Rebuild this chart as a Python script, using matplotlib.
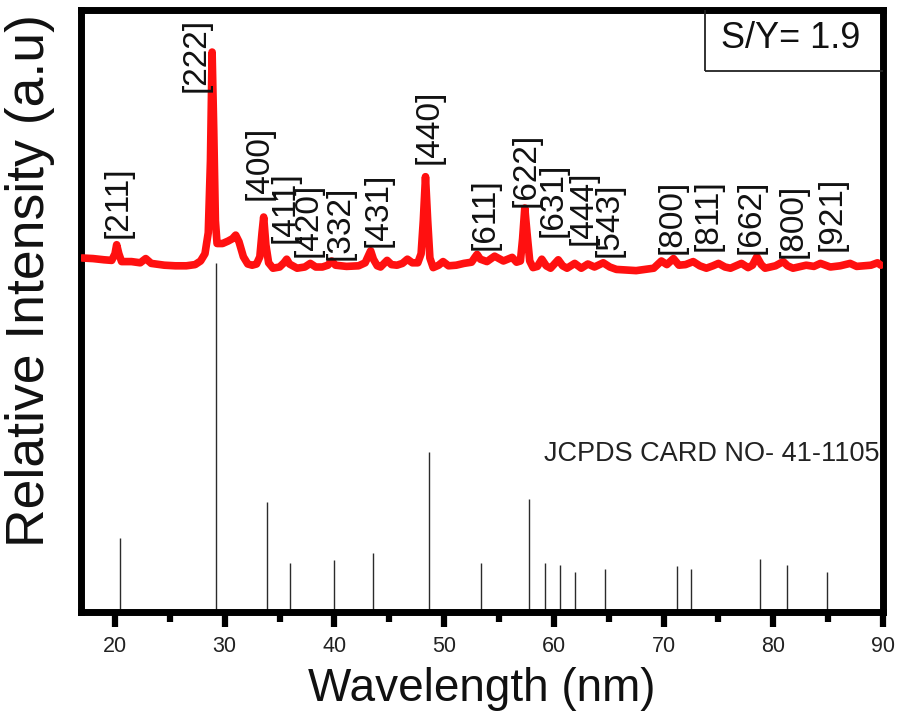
import matplotlib
matplotlib.use("Agg")
import matplotlib.pyplot as plt
from matplotlib.patches import Rectangle

plt.rcParams['font.family'] = ['Liberation Sans', 'DejaVu Sans']

# ---- data ----
# measured XRD pattern (red curve): 2-theta vs relative intensity
xrd_x = [17.0, 18.0, 19.0, 19.7, 20.0, 20.15, 20.35, 20.6, 21.5, 22.3, 22.8, 23.3, 24.5, 25.5,
         26.5, 27.3, 27.8, 28.2, 28.5, 28.7, 28.85, 29.0, 29.15, 29.3, 29.8, 30.3, 30.7, 31.0,
         31.3, 31.7, 32.1, 32.5, 32.9, 33.2, 33.4, 33.55, 33.75, 34.0, 34.4, 35.0, 35.4, 35.65,
         35.9, 36.6, 37.3, 37.8, 38.3, 38.9, 39.4, 39.75, 40.1, 41.1, 42.2, 42.8, 43.1, 43.3,
         43.55, 43.9, 44.2, 44.8, 45.2, 45.7, 46.2, 46.65, 47.1, 47.6, 47.9, 48.1, 48.3, 48.5,
         48.7, 49.0, 49.5, 49.9, 50.4, 51.1, 51.8, 52.5, 52.8, 53.0, 53.3, 53.9, 54.6, 55.4,
         56.2, 56.6, 56.95, 57.15, 57.35, 57.55, 57.8, 58.1, 58.5, 58.9, 59.3, 59.7, 60.4, 60.8,
         61.2, 61.9, 62.5, 63.1, 63.7, 64.5, 65.1, 65.7, 66.6, 67.5, 68.3, 69.1, 69.8, 70.3,
         70.9, 71.4, 72.0, 72.7, 73.3, 73.9, 74.5, 75.0, 75.6, 76.1, 76.6, 77.1, 77.7, 78.1,
         78.5, 78.9, 79.25, 80.2, 80.9, 81.3, 81.8, 83.0, 83.7, 84.3, 85.2, 86.1, 87.0, 87.6,
         88.2, 88.9, 89.5, 89.8]
xrd_y = [58.8, 58.7, 58.5, 58.4, 59.5, 61.0, 59.5, 58.2, 58.2, 58.0, 58.7, 57.9, 57.6, 57.5,
         57.5, 57.7, 58.3, 59.5, 63.0, 75.0, 93.0, 80.0, 65.0, 61.2, 61.2, 61.6, 62.0, 62.6,
         61.5, 59.0, 57.8, 57.6, 57.8, 59.0, 63.0, 65.6, 61.0, 58.0, 57.1, 57.3, 58.0, 58.6,
         57.8, 57.1, 57.3, 57.9, 57.3, 57.3, 57.6, 58.3, 57.6, 57.4, 57.5, 58.0, 59.2, 60.0,
         58.6, 57.5, 57.3, 58.4, 57.7, 57.6, 57.9, 58.6, 58.0, 58.0, 59.5, 65.0, 72.3, 65.0,
         58.8, 57.2, 57.6, 58.2, 57.5, 57.6, 57.9, 58.1, 58.9, 59.4, 58.6, 58.2, 59.1, 58.3,
         58.9, 58.1, 58.3, 62.0, 67.1, 63.0, 58.3, 57.2, 57.4, 58.6, 57.5, 57.1, 58.5, 57.5,
         57.1, 57.9, 57.1, 57.8, 57.3, 58.0, 57.3, 56.9, 56.8, 56.7, 56.9, 57.1, 58.3, 57.7,
         58.7, 57.6, 57.7, 58.2, 57.5, 57.1, 57.5, 57.9, 57.3, 57.1, 57.5, 57.9, 57.2, 57.6,
         59.0, 57.7, 57.1, 57.5, 58.2, 57.5, 57.1, 57.6, 57.4, 57.9, 57.3, 57.5, 57.9, 57.4,
         57.5, 57.6, 58.0, 57.6]

# JCPDS 41-1105 reference lines
ref_x = [20.48, 29.18, 33.83, 35.95, 39.96, 43.55, 48.62, 53.34, 57.77, 59.17, 60.57,
         61.96, 64.67, 71.2, 72.48, 78.8, 81.23, 84.88]
ref_h = [12.3, 58.0, 18.3, 8.1, 8.6, 9.8, 26.6, 8.1, 18.8, 8.1, 7.8, 6.6, 7.1, 7.7,
         7.2, 8.8, 7.8, 6.7]

# Miller-index labels
hkl = ['[211]', '[222]', '[400]', '[411]', '[420]', '[332]', '[431]', '[440]', '[611]',
       '[622]', '[631]', '[444]', '[543]', '[800]', '[811]', '[662]', '[800]', '[921]']
label_x = [20.30, 27.35, 33.09, 35.46, 37.64, 40.49, 43.95, 48.60, 53.76, 57.50, 59.92,
           62.65, 65.02, 70.79, 74.07, 78.01, 81.81, 85.33]
label_y = [62.1, 86.4, 68.4, 61.3, 59.0, 58.5, 60.7, 74.4, 60.1, 67.3, 62.3, 61.0, 59.0,
           59.5, 60.0, 59.5, 58.8, 60.0]

x_ticks = [20, 30, 40, 50, 60, 70, 80, 90]
x_minor = [25, 35, 45, 55, 65, 75, 85]

# ---- figure ----
fig = plt.figure(figsize=(8.98, 7.15), dpi=100)
ax = fig.add_axes([0.0902, 0.1441, 0.8931, 0.8420])

ax.vlines(ref_x, 0, ref_h, colors='#2b2b2b', linewidth=1.0, zorder=2)
ax.plot(xrd_x, xrd_y, color='#ff1010', linewidth=5.5, solid_joinstyle='round',
        solid_capstyle='round', zorder=3)

for t, lx, ly in zip(hkl, label_x, label_y):
    ax.text(lx, ly, t, rotation=90, ha='center', va='bottom', fontsize=24,
            color='#111111', zorder=4)

ax.set_xlim(16.9, 90)
ax.set_ylim(0, 100)
ax.set_xticks(x_ticks)
ax.set_xticks(x_minor, minor=True)
ax.set_yticks([])
ax.tick_params(axis='x', which='major', direction='out', length=10.5, width=4.5,
               labelsize=15.5, pad=7, colors='black')
ax.tick_params(axis='x', which='minor', direction='out', length=7, width=4.5)
ax.set_xticklabels([str(v) for v in x_ticks], color='#222222')
for s in ax.spines.values():
    s.set_linewidth(5)
    s.set_color('black')

ax.set_xlabel('Wavelength (nm)', fontsize=33, labelpad=7, color='#111111')
ax.set_ylabel('Relative Intensity (a.u)', fontsize=38.5, color='#111111')
ax.yaxis.set_label_coords(-0.033, 0.55)

# S/Y box
ax.add_patch(Rectangle((0.778, 0.899), 0.25, 0.2, transform=ax.transAxes,
                       fill=False, edgecolor='#222222', linewidth=1.3, zorder=5,
                       clip_on=True))
ax.text(0.885, 0.952, 'S/Y= 1.9', transform=ax.transAxes, ha='center', va='center',
        fontsize=26, color='#111111')

ax.text(0.996, 0.251, 'JCPDS CARD NO- 41-1105', transform=ax.transAxes, ha='right',
        va='baseline', fontsize=19.5, color='#222222')

fig.savefig('out.png', dpi=100)
